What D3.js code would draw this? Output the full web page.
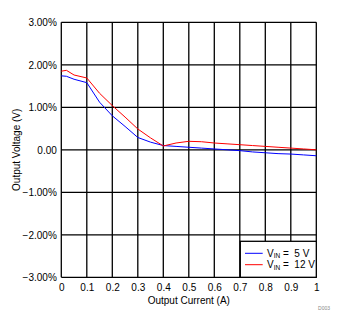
<!DOCTYPE html>
<html><head><meta charset="utf-8">
<script src="https://cdn.jsdelivr.net/npm/d3@7"></script>
<style>body{margin:0;background:#fff}svg{display:block}text{font-family:"Liberation Sans",Arial,sans-serif}</style>
</head><body>
<svg id="c" width="345" height="329"></svg>
<script>
const currents = [0, 0.02, 0.05, 0.1, 0.15, 0.2, 0.25, 0.3, 0.35, 0.4, 0.45, 0.5, 0.55, 0.6, 0.65, 0.7, 0.75, 0.8, 0.85, 0.9, 0.95, 1.0];
const vin5 = [1.74, 1.73, 1.66, 1.58, 1.12, 0.80, 0.55, 0.29, 0.18, 0.10, 0.08, 0.06, 0.04, 0.02, 0.00, -0.02, -0.05, -0.07, -0.09, -0.10, -0.12, -0.14];
const vin12 = [1.85, 1.87, 1.76, 1.69, 1.33, 1.04, 0.77, 0.49, 0.28, 0.09, 0.16, 0.20, 0.19, 0.16, 0.14, 0.12, 0.10, 0.08, 0.06, 0.04, 0.02, 0.00];
const xTicks = [0, 0.1, 0.2, 0.3, 0.4, 0.5, 0.6, 0.7, 0.8, 0.9, 1];
const yTicks = [-3, -2, -1, 0, 1, 2, 3];
const seriesNames = ["5 V", "12 V"];
const seriesColors = ["#0000ff", "#ff0000"];

const svg = d3.select("#c");
const L = 61.3, R = 316.3, T = 22.3, B = 277.3;
const x = d3.scaleLinear().domain([0, 1]).range([L, R]);
const y = d3.scaleLinear().domain([-3, 3]).range([B, T]);

// grid
const g = svg.append("g");
g.selectAll(".vg").data(xTicks).join("line")
  .attr("x1", d => x(d)).attr("x2", d => x(d)).attr("y1", T).attr("y2", B)
  .attr("stroke", "#000").attr("stroke-width", 1.3);
g.selectAll(".hg").data(yTicks).join("line")
  .attr("x1", L).attr("x2", R).attr("y1", d => y(d)).attr("y2", d => y(d))
  .attr("stroke", "#000").attr("stroke-width", 1.3);

// axes labels via d3 axes
const xAxis = d3.axisBottom(x).tickValues(xTicks).tickSize(0).tickPadding(7)
  .tickFormat(d => d === 0 ? "0" : d === 1 ? "1" : d3.format(".1f")(d));
svg.append("g").attr("transform", `translate(0,${B})`).call(xAxis)
  .call(a => a.select(".domain").remove())
  .selectAll("text").attr("font-size", 10).attr("fill", "#000").attr("font-family", "Liberation Sans, Arial, sans-serif");

const yAxis = d3.axisLeft(y).tickValues(yTicks).tickSize(0).tickPadding(4.5)
  .tickFormat(d => d === 0 ? "0.00" : d3.format(".2f")(d) + "%");
svg.append("g").attr("transform", `translate(${L},0)`).call(yAxis)
  .call(a => a.select(".domain").remove())
  .selectAll("text").attr("font-size", 10).attr("fill", "#000").attr("font-family", "Liberation Sans, Arial, sans-serif");

// lines
const series = [vin5, vin12];
const line = d3.line().x((d, i) => x(currents[i])).y(d => y(d));
series.forEach((s, k) => {
  svg.append("path").datum(s).attr("d", line).attr("fill", "none")
    .attr("stroke", seriesColors[k]).attr("stroke-width", 1);
});

// titles
svg.append("text").attr("x", (L + R) / 2).attr("y", 304).attr("text-anchor", "middle")
  .attr("font-size", 10).text("Output Current (A)");
svg.append("text").attr("transform", `translate(20,${(T + B) / 2}) rotate(-90)`)
  .attr("text-anchor", "middle").attr("font-size", 10).text("Output Voltage (V)");

// legend
const lg = svg.append("g");
lg.append("rect").attr("x", 240.3).attr("y", 241.3).attr("width", 76).attr("height", 36)
  .attr("fill", "#fff").attr("stroke", "#000").attr("stroke-width", 1.3);
seriesNames.forEach((n, k) => {
  const yy = 253.3 + k * 11.4;
  lg.append("line").attr("x1", 245).attr("x2", 262.7).attr("y1", yy).attr("y2", yy)
    .attr("stroke", seriesColors[k]).attr("stroke-width", 1);
  const t = lg.append("text").attr("x", 267).attr("y", yy + 3.5).attr("font-size", 10).attr("xml:space", "preserve");
  t.append("tspan").text("V");
  t.append("tspan").attr("font-size", 6.5).attr("dy", 1.5).text("IN");
  t.append("tspan").attr("dy", -1.5).text(" =  " + n);
});

svg.append("text").attr("x", 330).attr("y", 309.5).attr("text-anchor", "end")
  .attr("font-size", 5).attr("fill", "#888").text("D003");
</script>
</body></html>
